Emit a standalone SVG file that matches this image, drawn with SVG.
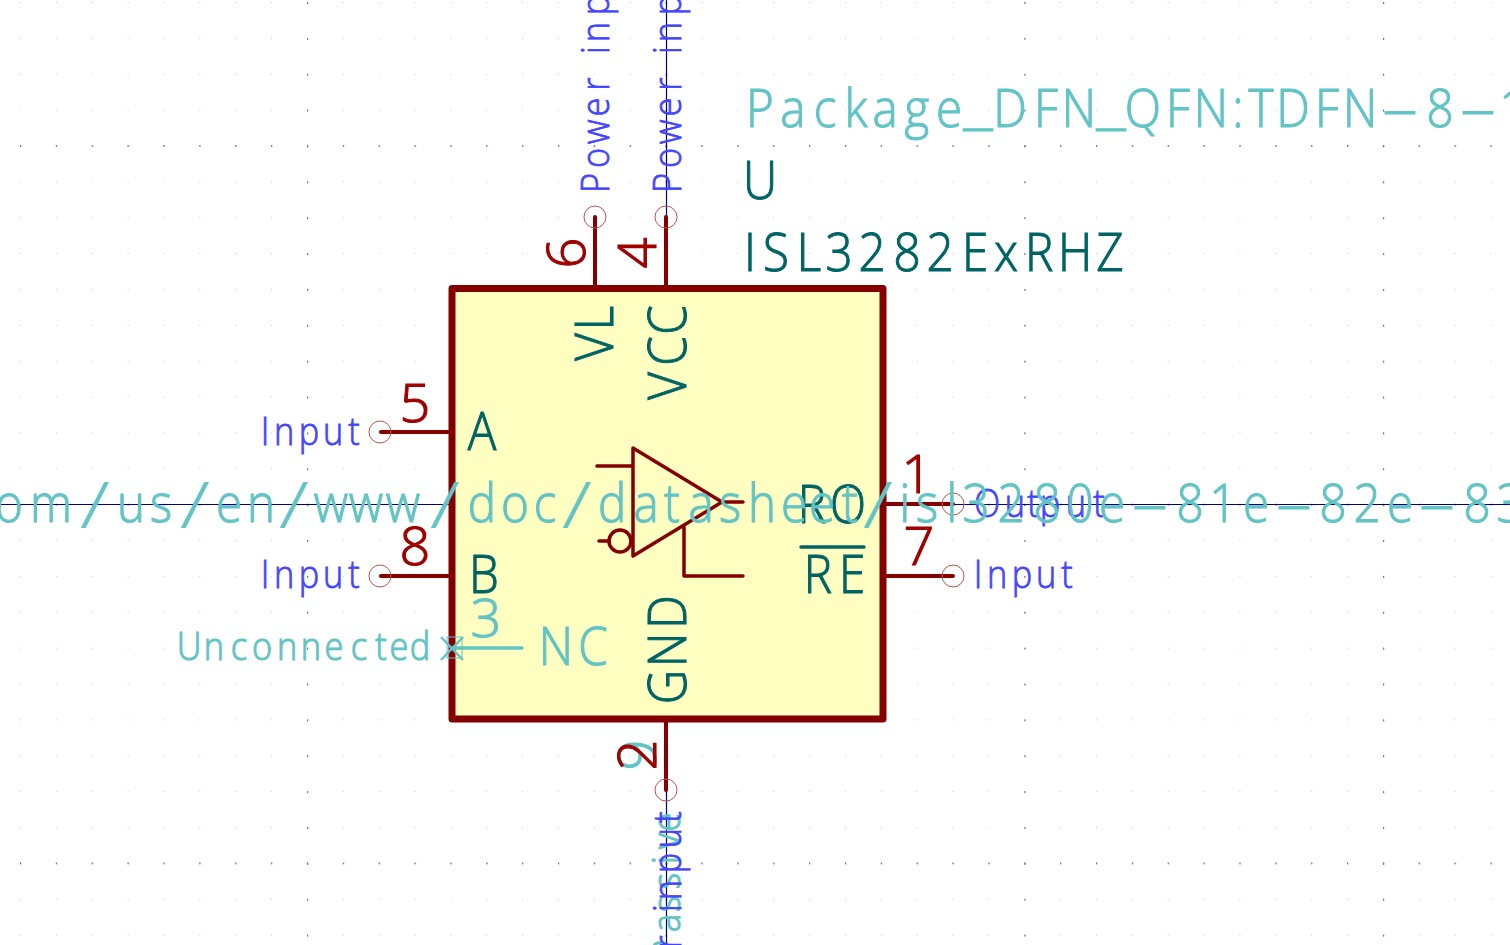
<svg xmlns="http://www.w3.org/2000/svg" width="1510" height="945" viewBox="0 0 1510 945">
<style>
text{font-family:"Open Sans","Noto Sans","Liberation Sans",sans-serif;font-weight:300;text-anchor:middle}
.big{font-size:54px}
.small{font-size:39px}
.teal{fill:#006464;stroke:#006464;stroke-width:1.1}
.cyan{fill:#62c4c4;stroke:#62c4c4;stroke-width:1.1}
.num{fill:#a00000;stroke:#a00000;stroke-width:1.1}
.blue{fill:#4444ff;stroke:#4444ff;stroke-width:.8}
.wire{stroke:#000084;stroke-width:1.2;fill:none}
.pin{stroke:#840000;stroke-width:4;fill:none;stroke-linecap:round}
.sym{stroke:#840000;stroke-width:3.5;fill:none;stroke-linecap:round;stroke-linejoin:round}
.end{stroke:#c05050;stroke-width:1;fill:none}
.sl{font-size:64px;stroke-width:.2}
</style>
<defs>
<pattern id="gl" patternUnits="userSpaceOnUse" x="20" y="2" width="35.866" height="35.87"><rect width="1" height="1" fill="#c8c8c8"/></pattern>
<pattern id="gr" patternUnits="userSpaceOnUse" x="20" y="145" width="35.866" height="358.7"><rect width="1.2" height="2" fill="#777"/></pattern>
<pattern id="gc" patternUnits="userSpaceOnUse" x="307" y="2" width="358.66" height="35.87"><rect width="1.2" height="2" fill="#777"/></pattern>
</defs>
<rect width="1510" height="945" fill="#fff"/>
<rect width="1510" height="945" fill="url(#gl)"/>
<rect width="1510" height="945" fill="url(#gr)"/>
<rect width="1510" height="945" fill="url(#gc)"/>
<g id="connectors">
<path class="wire" d="M666.5 0V217M0 504.5H449M953 504.5H1510M666.5 790V945"/>
</g>
<g id="body">
<rect x="452" y="288.5" width="431" height="430.5" fill="#ffffc2" stroke="#840000" stroke-width="7" stroke-linejoin="round"/>
</g>
<g id="buffer-symbol">
<path class="sym" d="M633 448L722 502L633 556ZM722 502H743M597 466H633M599 541H609M684 527V576H743"/>
<circle class="sym" cx="620" cy="541" r="11"/>
</g>
<g id="pin-6">
<path class="pin" d="M595 286V217"/><circle class="end" cx="595" cy="217" r="11"/>
<text class="num big" transform="translate(585,253) rotate(-90)" x="0" y="0">6</text>
<text class="teal big" transform="translate(613,0) rotate(-90) scale(.88,1)" x="-394.3 -361.4">VL</text>
<text class="blue small" transform="translate(608.5,194) rotate(-90) scale(.88,1)" x="12.5 40.9 70.5 98.9 125 142 163.6 184.1 214.8 243.2 267">Power input</text>
</g>
<g id="pin-4">
<path class="pin" d="M666 286V217"/><circle class="end" cx="666" cy="217" r="11"/>
<text class="num big" transform="translate(656,253) rotate(-90)" x="0" y="0">4</text>
<text class="teal big" transform="translate(686,0) rotate(-90) scale(.88,1)" x="-438.6 -398.9 -363.6">VCC</text>
<text class="blue small" transform="translate(681,194) rotate(-90) scale(.88,1)" x="12.5 40.9 70.5 98.9 125 142 163.6 184.1 214.8 243.2 267">Power input</text>
</g>
<g id="pin-5">
<path class="pin" d="M449 432H381"/><circle class="end" cx="380" cy="432" r="11"/>
<text class="num big" x="415" y="422">5</text>
<text class="teal big" transform="translate(482,450) scale(.88,1)">A</text>
<text class="blue small" transform="translate(265,445) scale(.88,1)" x="0 21.6 50 77.3 101.1">Input</text>
</g>
<g id="pin-8">
<path class="pin" d="M449 576H381"/><circle class="end" cx="380" cy="576" r="11"/>
<text class="num big" x="415" y="565">8</text>
<text class="teal big" transform="translate(484,593) scale(.88,1)">B</text>
<text class="blue small" transform="translate(265,588) scale(.88,1)" x="0 21.6 50 77.3 101.1">Input</text>
</g>
<g id="pin-3">
<path d="M452 648H522" stroke="#62c4c4" stroke-width="3.5" stroke-linecap="round" fill="none"/>
<path d="M441 637L463 660M463 637L441 660" stroke="#62c4c4" stroke-width="2.5" fill="none"/>
<rect x="447" y="637" width="15" height="21" fill="none" stroke="#62c4c4" stroke-width="1"/>
<text class="cyan big" x="486" y="637">3</text>
<text class="cyan big" transform="translate(0,665) scale(.88,1)" x="631.8 673.9">NC</text>
<text class="cyan small" transform="translate(189,660) scale(.88,1)" x="0 28.4 56.8 83 111.4 138.6 164.8 193.2 218.2 238.6 262.5">Unconnected</text>
</g>
<g id="pin-2">
<path class="pin" d="M666 722V790"/><circle class="end" cx="666" cy="790" r="11"/>
<text class="teal big" transform="translate(686,0) rotate(-90) scale(.88,1)" x="-780.7 -738.6 -695.5">GND</text>
<text class="cyan big" transform="translate(656,755) rotate(-90)" x="0" y="0">9</text>
<text class="num big" transform="translate(656,755) rotate(-90)" x="0" y="0">2</text>
<text class="cyan small" transform="translate(680,0) rotate(-90) scale(.88,1)" x="-1079.5 -1048.9 -1027.3 -1001.1 -977.3 -955.7 -934.1">Passive</text>
<text class="blue small" transform="translate(681,1052) rotate(-90) scale(.88,1)" x="12.5 40.9 70.5 98.9 125 142 163.6 184.1 214.8 243.2 267">Power input</text>
</g>
<g id="pin-1">
<path class="pin" d="M886 504H953"/><circle class="end" cx="953" cy="504" r="11"/>
<text class="num big" x="917" y="493">1</text>
<text class="teal big" transform="translate(0,523) scale(.88,1)" x="922.7 963.6">RO</text>
<text class="blue small" transform="translate(987,517) scale(.88,1)" x="0 31.8 52.3 71.6 101.1 127.3">Output</text>
</g>
<g id="pin-7">
<path class="pin" d="M886 576H953"/><circle class="end" cx="953" cy="576" r="11"/>
<text class="num big" x="919" y="565">7</text>
<text class="teal big" transform="translate(0,593) scale(.88,1)" x="929.5 968.2">RE</text>
<path d="M801 547H864" stroke="#006464" stroke-width="3.5" stroke-linecap="round"/>
<text class="blue small" transform="translate(978,588) scale(.88,1)" x="0 21.6 50 77.3 101.1">Input</text>
</g>
<g id="field-footprint"><text class="cyan big" transform="scale(.88,1)" y="127"><tspan x="863.6 901.1 937.5 972.7 1005.7 1042 1078.4">Package</tspan><tspan x="1111.4" y="124" textLength="33" lengthAdjust="spacingAndGlyphs">_</tspan><tspan x="1147.7 1188.6 1226.1" y="127">DFN</tspan><tspan x="1262.5" y="124" textLength="33" lengthAdjust="spacingAndGlyphs">_</tspan><tspan x="1298.9 1338.6 1376.1 1406.8 1433 1469.3 1508 1545.5" y="127">QFN:TDFN</tspan><tspan x="1590.9" textLength="43" lengthAdjust="spacingAndGlyphs">-</tspan><tspan x="1636.4">8</tspan><tspan x="1679.5" textLength="43" lengthAdjust="spacingAndGlyphs">-</tspan><tspan x="1719.3">1</tspan></text></g>
<g id="field-reference"><text class="teal big" transform="translate(760,199) scale(.88,1)">U</text></g>
<g id="field-value"><text class="teal big" transform="scale(.88,1)" y="271" x="852.3 881.8 919.3 953.4 990.9 1030.7 1068.2 1108 1143.2 1180.7 1221.6 1261.4">ISL3282ExRHZ</text></g>
<g id="field-datasheet"><text class="cyan big" transform="scale(.88,1)" y="522"><tspan x="10.2 58">om</tspan><tspan class="sl" x="108" y="528" textLength="34" lengthAdjust="spacingAndGlyphs">/</tspan><tspan x="148.9 183" y="522">us</tspan><tspan class="sl" x="221.6" y="528" textLength="34" lengthAdjust="spacingAndGlyphs">/</tspan><tspan x="260.2 296.6" y="522">en</tspan><tspan class="sl" x="334.1" y="528" textLength="34" lengthAdjust="spacingAndGlyphs">/</tspan><tspan x="376.1 415.9 458" y="522">www</tspan><tspan class="sl" x="505.7" y="528" textLength="34" lengthAdjust="spacingAndGlyphs">/</tspan><tspan x="547.7 585.2 619.3" y="522">doc</tspan><tspan class="sl" x="655.7" y="528" textLength="34" lengthAdjust="spacingAndGlyphs">/</tspan><tspan x="695.5 734.1 763.6 796.6 829.5 865.9 902.3 934.1 965.9" y="522">datasheet</tspan><tspan class="sl" x="997.7" y="528" textLength="34" lengthAdjust="spacingAndGlyphs">/</tspan><tspan x="1028.4 1053.4 1081.8 1109.1 1148.9 1189.8 1227.3 1263.6" y="522">isl3280e</tspan><tspan x="1306.8" textLength="43" lengthAdjust="spacingAndGlyphs">-</tspan><tspan x="1352.3 1389.8 1427.3">81e</tspan><tspan x="1470.5" textLength="43" lengthAdjust="spacingAndGlyphs">-</tspan><tspan x="1514.8 1553.4 1590.9">82e</tspan><tspan x="1632.9" textLength="43" lengthAdjust="spacingAndGlyphs">-</tspan><tspan x="1678.4 1715.9">83</tspan></text></g>
</svg>
